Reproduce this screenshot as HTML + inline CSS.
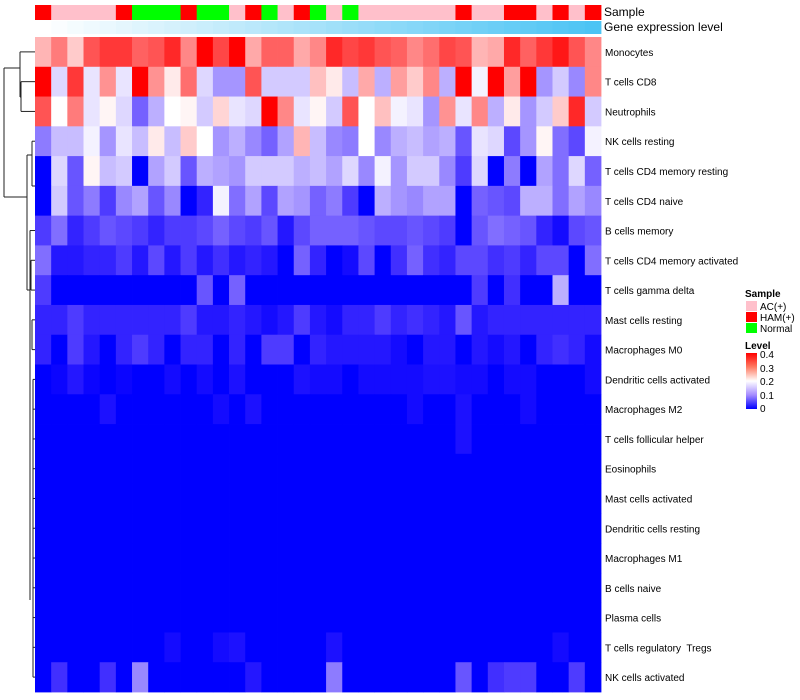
<!DOCTYPE html>
<html><head><meta charset="utf-8">
<style>
html,body{margin:0;padding:0;background:#fff;}
svg{display:block;font-family:"Liberation Sans",sans-serif;}
text{white-space:pre;}
</style></head>
<body>
<svg id="chart" width="800" height="700" viewBox="0 0 800 700">
<defs>
<linearGradient id="levelGrad" x1="0" x2="0" y1="0" y2="1">
<stop offset="0" stop-color="#ff0000"/><stop offset="0.25" stop-color="#ff7b63"/>
<stop offset="0.5" stop-color="#ffffff"/><stop offset="0.75" stop-color="#a58cff"/>
<stop offset="1" stop-color="#0000ff"/>
</linearGradient>
</defs>
<g id="dendro" stroke="#222" stroke-width="1" fill="none"></g>
<g id="cells"></g>
<g id="anno"></g>
<g id="rowlabels"></g>
<text x="604" y="16" font-size="12">Sample</text>
<text x="604" y="31" font-size="12">Gene expression level</text>
<g>
<text x="745" y="297" font-size="10" font-weight="bold">Sample</text>
<rect x="746" y="301" width="11" height="10" fill="#ffc0cb"/>
<text x="760" y="310" font-size="10">AC(+)</text>
<rect x="746" y="312" width="11" height="10" fill="#ff0000"/>
<text x="760" y="321" font-size="10">HAM(+)</text>
<rect x="746" y="323" width="11" height="10" fill="#00ff00"/>
<text x="760" y="332" font-size="10">Normal</text>
<text x="745" y="349" font-size="10" font-weight="bold">Level</text>
<rect x="746" y="353" width="11" height="56" fill="url(#levelGrad)"/>
<text x="760" y="358" font-size="10">0.4</text>
<text x="760" y="372" font-size="10">0.3</text>
<text x="760" y="385" font-size="10">0.2</text>
<text x="760" y="399" font-size="10">0.1</text>
<text x="760" y="412" font-size="10">0</text>
</g>
</svg>
<script>
const rowNames = ["Monocytes","T cells CD8","Neutrophils","NK cells resting","T cells CD4 memory resting","T cells CD4 naive","B cells memory","T cells CD4 memory activated","T cells gamma delta","Mast cells resting","Macrophages M0","Dendritic cells activated","Macrophages M2","T cells follicular helper","Eosinophils","Mast cells activated","Dendritic cells resting","Macrophages M1","B cells naive","Plasma cells","T cells regulatory  Tregs","NK cells activated"];
const sampleGroups = ["H","A","A","A","A","H","N","N","N","H","N","N","A","H","N","A","H","N","A","N","A","A","A","A","A","A","H","A","A","H","H","A","H","A","H"];
const z = () => new Array(35).fill(0);
const values = [
[0.27,0.32,0.25,0.35,0.37,0.37,0.34,0.35,0.38,0.31,0.40,0.36,0.40,0.28,0.34,0.34,0.28,0.31,0.38,0.36,0.37,0.35,0.34,0.31,0.33,0.36,0.35,0.27,0.28,0.38,0.34,0.37,0.39,0.35,0.31],
[0.40,0.17,0.37,0.18,0.30,0.18,0.40,0.30,0.22,0.33,0.17,0.12,0.12,0.35,0.16,0.16,0.16,0.26,0.22,0.15,0.28,0.14,0.29,0.25,0.31,0.14,0.40,0.19,0.40,0.29,0.40,0.12,0.16,0.11,0.31],
[0.35,0.20,0.32,0.18,0.21,0.17,0.08,0.14,0.20,0.21,0.16,0.24,0.18,0.17,0.40,0.31,0.18,0.21,0.16,0.35,0.20,0.26,0.19,0.18,0.12,0.30,0.18,0.31,0.14,0.22,0.12,0.16,0.25,0.38,0.16],
[0.10,0.15,0.15,0.19,0.12,0.18,0.15,0.22,0.15,0.25,0.20,0.12,0.14,0.11,0.08,0.13,0.27,0.15,0.11,0.10,0.20,0.11,0.14,0.15,0.13,0.14,0.07,0.18,0.17,0.06,0.12,0.21,0.09,0.06,0.19],
[0.00,0.17,0.07,0.21,0.15,0.16,0.00,0.13,0.16,0.07,0.14,0.13,0.12,0.16,0.16,0.16,0.14,0.15,0.13,0.17,0.11,0.19,0.12,0.16,0.16,0.11,0.05,0.17,0.00,0.10,0.00,0.13,0.09,0.17,0.08],
[0.00,0.16,0.07,0.10,0.05,0.11,0.13,0.07,0.11,0.00,0.03,0.19,0.09,0.13,0.06,0.13,0.12,0.08,0.10,0.05,0.00,0.14,0.12,0.11,0.13,0.13,0.00,0.08,0.07,0.06,0.14,0.14,0.09,0.13,0.11],
[0.05,0.09,0.03,0.05,0.07,0.06,0.05,0.03,0.05,0.05,0.06,0.08,0.06,0.05,0.07,0.02,0.06,0.08,0.08,0.08,0.07,0.06,0.06,0.07,0.06,0.05,0.00,0.07,0.09,0.08,0.07,0.03,0.01,0.06,0.07],
[0.09,0.02,0.02,0.03,0.03,0.05,0.02,0.06,0.02,0.05,0.02,0.04,0.02,0.03,0.02,0.00,0.08,0.03,0.00,0.01,0.06,0.00,0.04,0.08,0.04,0.03,0.06,0.06,0.04,0.05,0.03,0.06,0.06,0.00,0.09],
[0.05,0,0,0,0,0,0,0,0,0,0.07,0,0.08,0,0,0,0,0,0,0,0,0,0,0,0,0,0,0.05,0,0.04,0,0,0.14,0,0],
[0.03,0.03,0.05,0.03,0.03,0.03,0.03,0.03,0.03,0.05,0.02,0.02,0.03,0.02,0.01,0.02,0.05,0.02,0.01,0.03,0.03,0.05,0.03,0.04,0.03,0.02,0.07,0.02,0.03,0.03,0.03,0.03,0.03,0.03,0.03],
[0.03,0.00,0.05,0.02,0.00,0.03,0.05,0.03,0.00,0.03,0.03,0.00,0.03,0.00,0.05,0.05,0.00,0.03,0.02,0.02,0.02,0.02,0.01,0.00,0.02,0.02,0.00,0.02,0.01,0.02,0.00,0.03,0.04,0.03,0.01],
[0,0.005,0.02,0.005,0,0.005,0,0,0.01,0,0.01,0,0.015,0,0,0,0.015,0.01,0.01,0,0.01,0.01,0.01,0.01,0.015,0.015,0.01,0.01,0,0.01,0.01,0,0,0,0.01],
[0,0,0,0,0.015,0,0,0,0,0,0,0.01,0,0.015,0,0,0,0,0,0,0,0,0,0.01,0,0,0.015,0,0,0,0.01,0,0,0,0],
[0,0,0,0,0,0,0,0,0,0,0,0,0,0,0,0,0,0,0,0,0,0,0,0,0,0,0.015,0,0,0,0,0,0,0,0],
z(), z(), z(), z(), z(), z(),
[0,0,0,0,0,0,0,0,0.01,0,0,0.01,0.015,0,0,0,0,0,0.015,0,0,0,0,0,0,0,0,0,0,0,0,0,0.01,0,0],
[0,0.04,0,0,0.04,0,0.11,0,0,0,0,0,0,0.02,0,0,0,0,0.10,0,0,0,0,0,0,0,0.07,0,0.04,0.05,0.05,0,0,0.05,0]
];
const NS = "http://www.w3.org/2000/svg";
const X0 = 35, X1 = 601, Y0 = 37, Y1 = 692;
const nC = 35, nR = rowNames.length;
const cw = (X1 - X0) / nC, rh = (Y1 - Y0) / nR;
const xPos = i => X0 + i * cw;
const yPos = j => Y0 + j * rh;
function color(v) {
  let r, g, b;
  if (v <= 0.2) { const t = Math.max(0, v / 0.2); r = 255 * Math.pow(t, 0.85); g = 255 * Math.pow(t, 1.05); b = 255; }
  else { const t = Math.min(1, (v - 0.2) / 0.2); r = 255; g = b = 255 * Math.pow(1 - t, 0.8); }
  return `rgb(${Math.round(r)},${Math.round(g)},${Math.round(b)})`;
}
const sampleColor = { A: "#ffc0cb", H: "#ff0000", N: "#00ff00" };
const cells = document.getElementById("cells");
for (let j = 0; j < nR; j++) {
  for (let i = 0; i < nC; i++) {
    const r = document.createElementNS(NS, "rect");
    r.setAttribute("x", xPos(i)); r.setAttribute("y", yPos(j));
    r.setAttribute("width", cw + 0.4); r.setAttribute("height", rh + 0.4);
    r.setAttribute("fill", color(values[j][i]));
    
    
    cells.appendChild(r);
  }
  const t = document.createElementNS(NS, "text");
  t.setAttribute("x", 605); t.setAttribute("y", yPos(j) + rh / 2 + 4);
  t.setAttribute("font-size", "10"); t.textContent = rowNames[j];
  
  
  document.getElementById("rowlabels").appendChild(t);
}
const anno = document.getElementById("anno");
for (let i = 0; i < nC; i++) {
  const r = document.createElementNS(NS, "rect");
  r.setAttribute("x", xPos(i)); r.setAttribute("y", 5);
  r.setAttribute("width", cw + 0.4); r.setAttribute("height", 15);
  r.setAttribute("fill", sampleColor[sampleGroups[i]]);
  
  
  anno.appendChild(r);
  const t = i / (nC - 1);
  const gr = document.createElementNS(NS, "rect");
  gr.setAttribute("x", xPos(i)); gr.setAttribute("y", 21);
  gr.setAttribute("width", cw + 0.4); gr.setAttribute("height", 13);
  gr.setAttribute("fill", `rgb(${Math.round(255 - 179 * t)},${Math.round(255 - 59 * t)},${Math.round(255 - 11 * t)})`);
  
  
  anno.appendChild(gr);
}
const cy = j => yPos(j) + rh / 2;
const segs = [
 [4,68,4,197],[4,68,20,68],[20,cy(0),20,97],[20,cy(0),35,cy(0)],[20,97,21,97],[21,cy(1),21,cy(2)],[21,cy(1),35,cy(1)],[21,cy(2),35,cy(2)],
 [4,197,27,197],[27,155,27,290],[27,155,32,155],[32,cy(3),32,186],[32,cy(3),35,cy(3)],[32,186,36,186],[36,cy(4),36,cy(5)],
 [27,290,30,290],[30,cy(6),30,600],[30,cy(6),35,cy(6)],[31,cy(7),31,cy(8)],[31,cy(7),35,cy(7)],[31,cy(8),35,cy(8)],
 [32,cy(9),32,cy(10)],[32,cy(9),35,cy(9)],[32,cy(10),35,cy(10)],[33,cy(11),33,cy(21)]
];
for (let j = 11; j < nR; j++) segs.push([33, cy(j), 35, cy(j)]);
const dg = document.getElementById("dendro");
segs.forEach(s => {
  const l = document.createElementNS(NS, "line");
  l.setAttribute("x1", s[0]); l.setAttribute("y1", s[1]); l.setAttribute("x2", s[2]); l.setAttribute("y2", s[3]);
  
  
  dg.appendChild(l);
});
</script>
</body></html>
